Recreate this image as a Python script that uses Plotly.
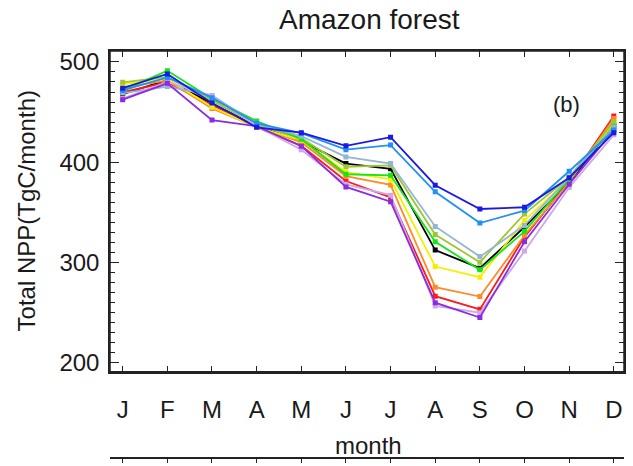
import plotly.graph_objects as go

months = [1, 2, 3, 4, 5, 6, 7, 8, 9, 10, 11, 12]
month_labels = ["J", "F", "M", "A", "M", "J", "J", "A", "S", "O", "N", "D"]
y_ticks = [200, 300, 400, 500]

black = [468, 482, 458.5, 436, 421, 398.7, 393.5, 312.4, 294.4, 335.4, 380, 437]
red = [469.9, 479.7, 456.8, 435, 416.4, 381.3, 365, 266.5, 253.3, 325.6, 381, 446]
orange = [474.8, 481.4, 453.5, 435, 420, 386.2, 377.4, 275.4, 266.1, 327.2, 380, 443.7]
yellow = [478, 483, 455.1, 434.8, 422, 390.2, 383, 296, 285.4, 342, 383, 438.8]
yellowgreen = [479.7, 485, 461.7, 437, 424, 395.5, 396.8, 327.9, 300.3, 348.5, 385, 440.4]
green = [471.6, 491.2, 463.4, 441, 423, 388, 386.9, 320.7, 292.7, 331.1, 383, 436]
lightsteel = [469, 475.5, 466.6, 438, 426, 405.3, 398.7, 336, 305.9, 337, 385, 435]
dodger = [471.6, 484.6, 464.4, 438.8, 429, 412.5, 417.1, 370.5, 339.4, 351.8, 391, 431.9]
blue = [473.8, 488, 459, 434.8, 429.5, 416.4, 425, 377.1, 353.4, 355.1, 384.6, 429.5]
lavender = [463.4, 480, 466, 436, 412.5, 378, 367.2, 256.7, 250, 311.4, 374.8, 427.3]
purple = [462.4, 478.7, 442, 436, 416, 375.4, 360.6, 260, 245.2, 320.7, 378, 432]

series = [
    ("black", black, "#000000"),
    ("red", red, "#ff1a1a"),
    ("orange", orange, "#ff8a2a"),
    ("yellow", yellow, "#f5f000"),
    ("yellowgreen", yellowgreen, "#9ec832"),
    ("green", green, "#14e614"),
    ("lightsteel", lightsteel, "#94b4d8"),
    ("lavender", lavender, "#cfa8e8"),
    ("purple", purple, "#8a2be2"),
    ("dodger", dodger, "#2090f5"),
    ("blue", blue, "#1a1ae6"),
]

W, H = 633, 466
L, R, T, B = 110, 9, 51, 2
PW = W - L - R
PH = H - T - B


def px(x):
    return (x - L) / PW


def py(y):
    return (H - B - y) / PH


fig = go.Figure()
for name, vals, col in series:
    fig.add_trace(go.Scatter(
        x=months, y=vals, mode="lines+markers", name=name,
        line=dict(color=col, width=1.8),
        marker=dict(symbol="square", size=5, color=col),
        showlegend=False,
    ))

font_family = "Liberation Sans, Arial, sans-serif"
fig.update_layout(
    width=W, height=H,
    margin=dict(l=L, r=R, t=T, b=B),
    paper_bgcolor="white", plot_bgcolor="white",
    font=dict(family=font_family, color="#1a1a1a"),
    xaxis=dict(
        range=[0.716, 12.228], tickmode="array", tickvals=months, ticktext=month_labels,
        ticks="inside", ticklen=6, tickwidth=1.3, tickcolor="#222",
        showline=True, linecolor="#222", linewidth=1.5, mirror="allticks",
        showgrid=False, zeroline=False, tickfont=dict(size=24),
        ticklabelstandoff=16,
    ),
    yaxis=dict(
        domain=[py(375), 1], range=[191, 510.9],
        tickmode="array", tickvals=y_ticks,
        ticks="inside", ticklen=9, tickwidth=1.3, tickcolor="#222",
        minor=dict(dtick=10, ticks="inside", ticklen=5, tickwidth=1.2, tickcolor="#222", showgrid=False),
        showline=True, linecolor="#222", linewidth=1.5, mirror="allticks",
        showgrid=False, zeroline=False, tickfont=dict(size=24),
        ticklabelstandoff=4,
    ),
    xaxis2=dict(
        anchor="y2", side="top", range=[0.716, 12.228], tickmode="array", tickvals=months,
        showticklabels=False, ticks="inside", ticklen=4, tickcolor="#222",
        showline=True, linecolor="#222", linewidth=1.5, showgrid=False, zeroline=False,
    ),
    yaxis2=dict(domain=[0, 0.002], anchor="x2", visible=False, range=[0, 1]),
)

# invisible trace to activate second axes
fig.add_trace(go.Scatter(x=[None], y=[None], xaxis="x2", yaxis="y2", showlegend=False))

# plot frame
fig.add_shape(type="rect", xref="x domain", yref="y domain", x0=0, x1=1, y0=0, y1=1,
              line=dict(color="#222", width=1.5), layer="above")

fig.add_annotation(text="Amazon forest", x=px(369), y=py(19), xref="paper", yref="paper",
                   showarrow=False, font=dict(size=28), xanchor="center", yanchor="middle")
fig.add_annotation(text="Total NPP(TgC/month)", x=px(26), y=py(213), xref="paper", yref="paper",
                   showarrow=False, font=dict(size=24), textangle=-90, xanchor="center", yanchor="middle")
fig.add_annotation(text="month", x=px(368), y=py(449), xref="paper", yref="paper",
                   showarrow=False, font=dict(size=24), xanchor="center", yanchor="middle")
fig.add_annotation(text="(b)", x=px(566), y=py(105), xref="paper", yref="paper",
                   showarrow=False, font=dict(size=22), xanchor="center", yanchor="middle")

fig.write_html("out.html", config={"displayModeBar": False},
               post_script="document.body.style.margin='0';document.body.style.overflow='hidden';")
